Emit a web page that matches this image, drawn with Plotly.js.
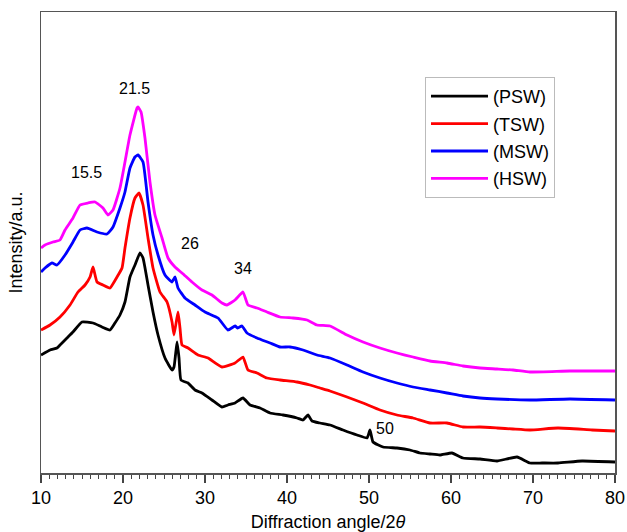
<!DOCTYPE html>
<html>
<head>
<meta charset="utf-8">
<script src="https://cdn.plot.ly/plotly-3.0.1.min.js"></script>
<style>html,body{margin:0;padding:0;background:#fff;}#chart{width:627px;height:532px;}</style>
</head>
<body>
<div id="chart"></div>
<script>
// Series names
const seriesNames = ["(PSW)", "(TSW)", "(MSW)", "(HSW)"];
const seriesColors = ["#000000", "#ff0000", "#0000ff", "#ff00ff"];

// PSW (black)
const pswX = [10.0,11.10,11.95,12.32,13.17,13.90,15.00,16.34,17.44,18.41,19.02,19.63,20.24,20.85,21.46,22.07,22.44,23.05,23.66,24.27,25.12,25.98,26.22,26.59,26.83,27.07,27.93,28.78,29.63,30.85,32.07,32.80,33.66,34.63,35.49,36.71,37.93,39.51,41.22,41.95,42.56,43.05,44.02,45.24,46.83,48.54,49.76,50.12,50.49,51.71,53.41,55.00,56.22,57.44,58.66,60.12,61.46,63.54,65.61,68.05,69.63,71.10,73.05,75.98,80.00];
const pswY = [118,123,125,128,135,141,151,150,146,143,150,158,171,196,208,220,215,188,161,138,115,103,106,131,115,93,90,83,80,73,66,68,70,75,68,65,60,58,55,53,58,52,50,48,43,38,35,43,31,26,25,23,20,19,18,20,15,14,12,16,10,10,10,12,11];

// TSW (red)
const tswX = [10.0,11.10,12.32,13.54,14.51,15.37,15.98,16.34,16.83,17.56,18.41,19.27,19.88,20.24,20.85,21.46,21.95,22.44,23.05,23.66,24.51,25.37,25.98,26.22,26.71,26.95,27.20,27.93,29.15,30.37,32.07,33.66,34.63,35.24,36.34,37.56,39.15,41.22,42.80,44.02,45.24,47.32,49.27,51.34,53.41,55.37,57.44,59.51,61.46,63.54,65.61,67.56,69.63,73.05,77.20,80.00];
const tswY = [143,148,156,168,181,188,196,206,191,188,185,196,205,225,255,275,280,268,235,205,181,171,151,138,161,145,128,125,118,115,106,110,116,103,100,95,93,91,88,85,82,76,70,63,58,55,50,50,46,46,45,44,43,45,43,42];

// MSW (blue)
const mswX = [10.0,10.49,11.34,11.95,12.93,13.90,14.76,15.61,16.83,18.05,18.78,19.63,20.24,20.85,21.46,21.83,22.44,23.05,23.66,24.27,25.12,25.98,26.34,26.71,27.56,28.78,30.00,31.59,32.80,33.66,34.00,34.51,35.12,36.34,37.93,39.15,40.37,41.95,43.66,45.24,47.32,49.27,51.34,53.41,55.37,57.44,59.51,61.46,63.54,65.61,69.63,74.50,80.00];
const mswY = [201,205,210,208,218,231,243,245,241,239,246,265,281,305,316,318,311,271,238,218,198,191,196,185,175,168,161,155,143,147,145,147,140,135,130,126,126,123,118,115,108,101,95,90,86,83,80,77,75,74,73,74,73];

// HSW (magenta)
const hswX = [10.0,10.49,11.46,12.32,12.93,13.90,14.76,15.73,16.59,17.56,18.17,18.78,19.63,20.24,20.85,21.71,21.83,22.20,22.68,23.29,23.90,24.76,25.49,26.34,27.20,28.41,29.63,30.85,32.07,32.68,33.66,34.63,35.24,36.34,37.56,39.15,40.73,42.44,43.66,45.24,47.32,49.27,51.34,53.41,55.37,57.44,59.51,61.46,63.54,65.61,67.56,69.63,74.50,80.00];
const hswY = [225,228,231,233,243,255,268,270,271,265,258,263,285,311,338,365,366,361,335,291,258,235,215,206,200,191,183,178,170,168,173,181,168,165,161,156,155,153,148,147,138,131,125,120,116,112,110,107,105,104,103,101,102,102];

// Peak labels
const peakLabels = ["21.5", "15.5", "26", "34", "50"];
const peakLabelX = [21.46, 15.49, 28.17, 34.63, 51.95];
const peakLabelY = [385, 301, 230, 205, 45];

const xs = [pswX, tswX, mswX, hswX];
const ys = [pswY, tswY, mswY, hswY];

const traces = seriesNames.map((n, i) => ({
  type: "scatter", mode: "lines", name: n,
  x: xs[i], y: ys[i],
  legendgroup: "g" + i,
  line: {color: seriesColors[i], width: 2.8, shape: "spline", smoothing: 0.4}
}));

const FONT = "Liberation Sans, Arial, Helvetica, sans-serif";

const annotations = peakLabels.map((t, i) => ({
  x: peakLabelX[i], y: peakLabelY[i], xref: "x", yref: "y",
  text: t, showarrow: false,
  font: {family: FONT, size: 16, color: "#000"}
}));

const layout = {
  width: 627, height: 532,
  margin: {l: 41, r: 12, t: 12, b: 59},
  paper_bgcolor: "#fff", plot_bgcolor: "#fff",
  font: {family: FONT, color: "#000"},
  showlegend: true,
  legend: {
    x: 0.669, y: 0.859, xanchor: "left", yanchor: "top",
    bordercolor: "#bbbbbb", borderwidth: 1, bgcolor: "#fff",
    font: {family: FONT, size: 18, color: "#000"},
    tracegroupgap: 1, itemwidth: 57
  },
  xaxis: {
    range: [10, 80], dtick: 10, tick0: 10,
    ticks: "outside", ticklen: 8, tickwidth: 1.2, tickcolor: "#444",
    minor: {dtick: 1, ticks: "outside", ticklen: 4, tickcolor: "#444", tickwidth: 1},
    showline: true, linecolor: "#555", linewidth: 1.5, mirror: true,
    showgrid: false, zeroline: false,
    tickfont: {family: FONT, size: 18, color: "#000"},
    title: {text: "Diffraction angle/2<i>θ</i>", font: {family: FONT, size: 18, color: "#000"}, standoff: 8}
  },
  yaxis: {
    range: [0, 461],
    showticklabels: false, ticks: "",
    showline: true, linecolor: "#555", linewidth: 1.5, mirror: true,
    showgrid: false, zeroline: false,
    title: {text: "Intensity/a.u.", font: {family: FONT, size: 18, color: "#000"}, standoff: 12}
  },
  annotations: annotations
};

Plotly.newPlot("chart", traces, layout, {displayModeBar: false, staticPlot: true});
</script>
</body>
</html>
